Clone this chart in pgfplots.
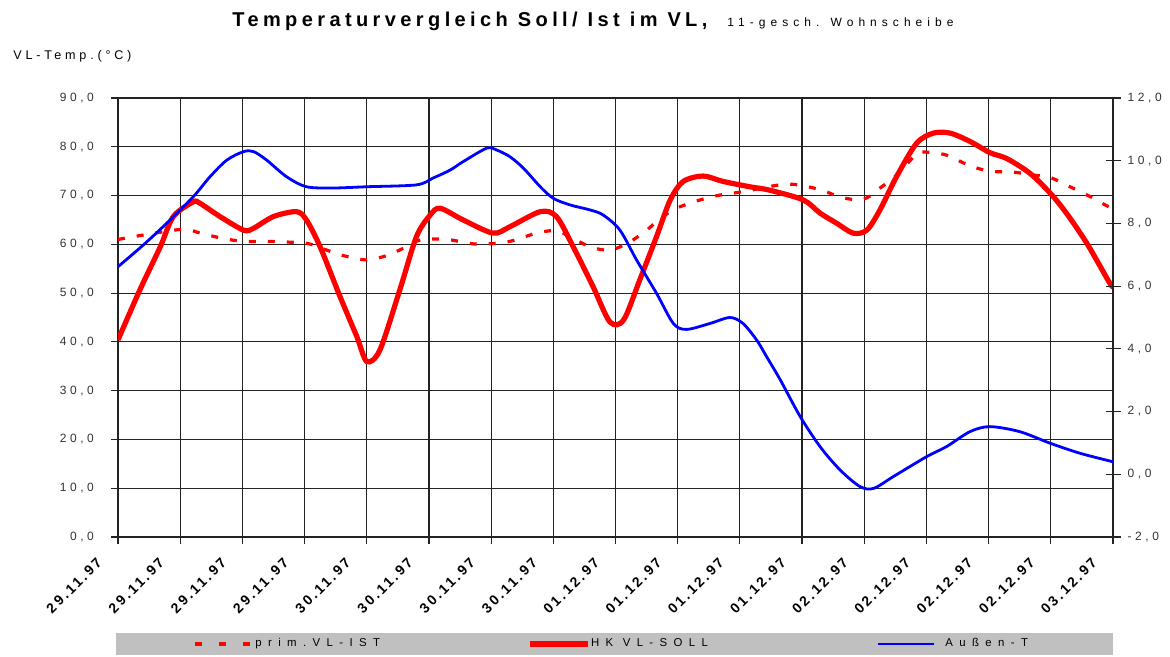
\documentclass[border=0pt]{standalone}
\usepackage{pgfplots}
\pgfplotsset{compat=1.18}
\usepackage{pgfplotstable}
\usepackage{fontspec}
\setmainfont{Liberation Sans}
\newfontfamily\tickf[LetterSpace=30]{Liberation Sans}
\newfontfamily\datef[LetterSpace=18]{Liberation Sans}
\newfontfamily\titlef[LetterSpace=22]{Liberation Sans}
\newfontfamily\subf[LetterSpace=42]{Liberation Sans}
\newfontfamily\widef[LetterSpace=56]{Liberation Sans}
\definecolor{lgray}{RGB}{192,192,192}
\definecolor{gridc}{RGB}{35,35,35}

\pgfplotstableread{
x y
0.00 61.0
0.40 61.9
1.05 63.1
1.32 62.3
1.69 61.2
2.02 60.6
2.39 60.6
3.03 60.2
3.36 58.8
3.62 57.7
4.00 56.8
4.32 57.7
4.59 59.2
4.86 60.9
5.29 61.0
5.71 60.1
6.09 60.2
6.36 60.8
6.73 62.3
7.05 62.8
7.32 61.2
7.59 59.5
7.91 58.8
8.23 60.5
8.50 62.9
8.72 65.3
8.98 67.4
9.36 69.1
9.68 70.1
10.05 70.8
10.70 72.3
11.02 72.0
11.34 71.0
11.64 69.6
11.98 69.2
12.25 71.5
12.52 74.2
12.84 78.5
13.00 78.9
13.32 78.3
13.70 76.1
14.02 75.0
14.40 74.8
14.72 74.2
14.99 73.7
15.31 71.8
15.63 69.8
15.90 67.9
16.00 67.3
}\istdata

\pgfplotstableread{
x y
0.00 40.4
0.35 50.6
0.68 59.5
0.89 65.7
1.21 68.7
1.32 68.4
1.64 65.7
2.02 62.9
2.18 63.3
2.50 65.7
2.87 66.7
3.03 65.0
3.25 59.5
3.57 49.3
3.84 41.1
4.00 36.0
4.21 38.3
4.53 50.6
4.80 61.6
5.02 66.0
5.18 67.4
5.55 65.0
6.03 62.3
6.30 63.6
6.79 66.7
7.05 65.7
7.32 59.5
7.64 51.3
7.91 44.1
8.13 44.5
8.39 52.7
8.66 61.6
8.88 69.1
9.09 72.9
9.41 74.0
9.73 72.9
10.16 71.8
10.48 71.1
11.02 69.1
11.29 66.4
11.56 64.3
11.82 62.3
12.04 62.9
12.25 67.0
12.52 73.9
12.84 80.7
13.11 82.8
13.38 82.8
13.70 81.1
14.02 78.8
14.29 77.6
14.66 74.6
14.99 70.5
15.25 66.4
15.58 60.2
15.95 52.0
16.00 51.5
}\solldata

\pgfplotstableread{
x y
0.00 6.62
0.40 7.30
0.78 8.00
1.21 8.85
1.48 9.49
1.75 10.02
2.02 10.29
2.18 10.29
2.39 10.02
2.71 9.49
3.03 9.17
3.46 9.13
4.00 9.17
4.80 9.23
5.07 9.45
5.34 9.70
5.55 9.97
5.93 10.40
6.09 10.34
6.30 10.13
6.52 9.76
6.79 9.17
7.00 8.80
7.27 8.59
7.59 8.43
7.80 8.27
8.07 7.79
8.34 6.83
8.66 5.77
8.93 4.81
9.14 4.62
9.52 4.81
9.84 5.00
10.05 4.81
10.27 4.28
10.43 3.75
10.65 3.01
10.97 1.84
11.29 0.88
11.61 0.14
11.93 -0.39
12.15 -0.45
12.47 -0.07
13.00 0.56
13.32 0.88
13.70 1.36
14.02 1.52
14.50 1.36
14.99 0.99
15.47 0.67
16.00 0.40
}\aussendata

\begin{document}
\begin{tikzpicture}
\pgfplotsset{
  base/.style={
    at={(59pt,-268.5pt)}, anchor=south west,
    scale only axis, width=497.5pt, height=219.5pt,
    xmin=0, xmax=16,
    axis line style={gridc, line width=0.6pt},
    tick style={gridc, line width=0.6pt},
    /pgf/number format/assume math mode=true,
    yticklabel style={font=\tickf\fontsize{6}{7}\selectfont, text=black!80,
      /pgf/number format/fixed, /pgf/number format/fixed zerofill,
      /pgf/number format/precision=1, /pgf/number format/use comma},
  }
}
\begin{axis}[base,
  ymin=0, ymax=90, ytick={0,10,...,90},
  xtick={0,...,16},
  xticklabels={29.11.97,29.11.97,29.11.97,29.11.97,30.11.97,30.11.97,30.11.97,30.11.97,01.12.97,01.12.97,01.12.97,01.12.97,02.12.97,02.12.97,02.12.97,02.12.97,03.12.97},
  xtick pos=bottom, ytick pos=left, tick align=outside,
  major tick length=3.5pt,
  grid=major, major grid style={gridc, line width=0.6pt},
  xticklabel style={font=\datef\bfseries\fontsize{7}{8}\selectfont, rotate=45, anchor=north east, inner sep=0pt, xshift=-12.2pt, yshift=3.5pt},
  yticklabel style={xshift=-5pt},
]
\addplot[red, line width=1.6pt, dash pattern=on 3.5pt off 6pt, smooth, tension=0.5] table {\istdata};
\addplot[red, line width=2.6pt, smooth, tension=0.5] table {\solldata};
\end{axis}

\begin{axis}[base,
  ymin=-2, ymax=12, ytick={-2,0,...,12},
  axis x line=none, axis y line*=right,
  tick align=center, major tick length=7.5pt,
  legend columns=3, legend cell align=left,
  legend style={at={(-0.002,-0.2187)}, anchor=north west, draw=none, fill=lgray,
    inner xsep=0pt, inner ysep=2.5pt, column sep=0pt, row sep=0pt,
    font=\widef\fontsize{5.7}{7}\selectfont, nodes={inner sep=0pt}},
]
\addlegendimage{legend image code/.code={\path[draw=none,fill=none] (-39.5pt,0pt) -- (30pt,0pt); \draw[red, line width=1.6pt, dash pattern=on 3.5pt off 8.5pt] (0pt,0pt) -- (28.5pt,0pt);}}
\addlegendentry{\makebox[136pt][l]{prim.VL-IST}}
\addlegendimage{legend image code/.code={\path[draw=none,fill=none] (0pt,0pt) -- (30.5pt,0pt); \draw[red, line width=2.6pt] (0pt,0pt) -- (29pt,0pt);}}
\addlegendentry{\makebox[143pt][l]{HK VL-SOLL}}
\addplot[blue, line width=1.4pt, smooth, tension=0.5,
  legend image code/.code={\path[draw=none,fill=none] (0pt,0pt) -- (33.5pt,0pt); \draw[blue, line width=1.4pt] (0pt,0pt) -- (28pt,0pt);}] table {\aussendata};
\addlegendentry{\makebox[84pt][l]{Außen-T}}
\end{axis}

\node[anchor=base west, inner sep=0pt] at (116pt,-13.5pt)
  {\titlef\bfseries\fontsize{10}{12}\selectfont Temperaturvergleich Soll/ Ist im VL,\ \hspace{5pt}{\subf\mdseries\fontsize{6}{7}\selectfont 11-gesch. Wohnscheibe}};
\node[anchor=base west, inner sep=0pt] at (6.5pt,-29.75pt)
  {\tickf\fontsize{6.3}{7}\selectfont VL-Temp.(°C)};

\pgfresetboundingbox
\path[use as bounding box] (0pt,0pt) rectangle (585pt,-328.5pt);
\end{tikzpicture}
\end{document}
